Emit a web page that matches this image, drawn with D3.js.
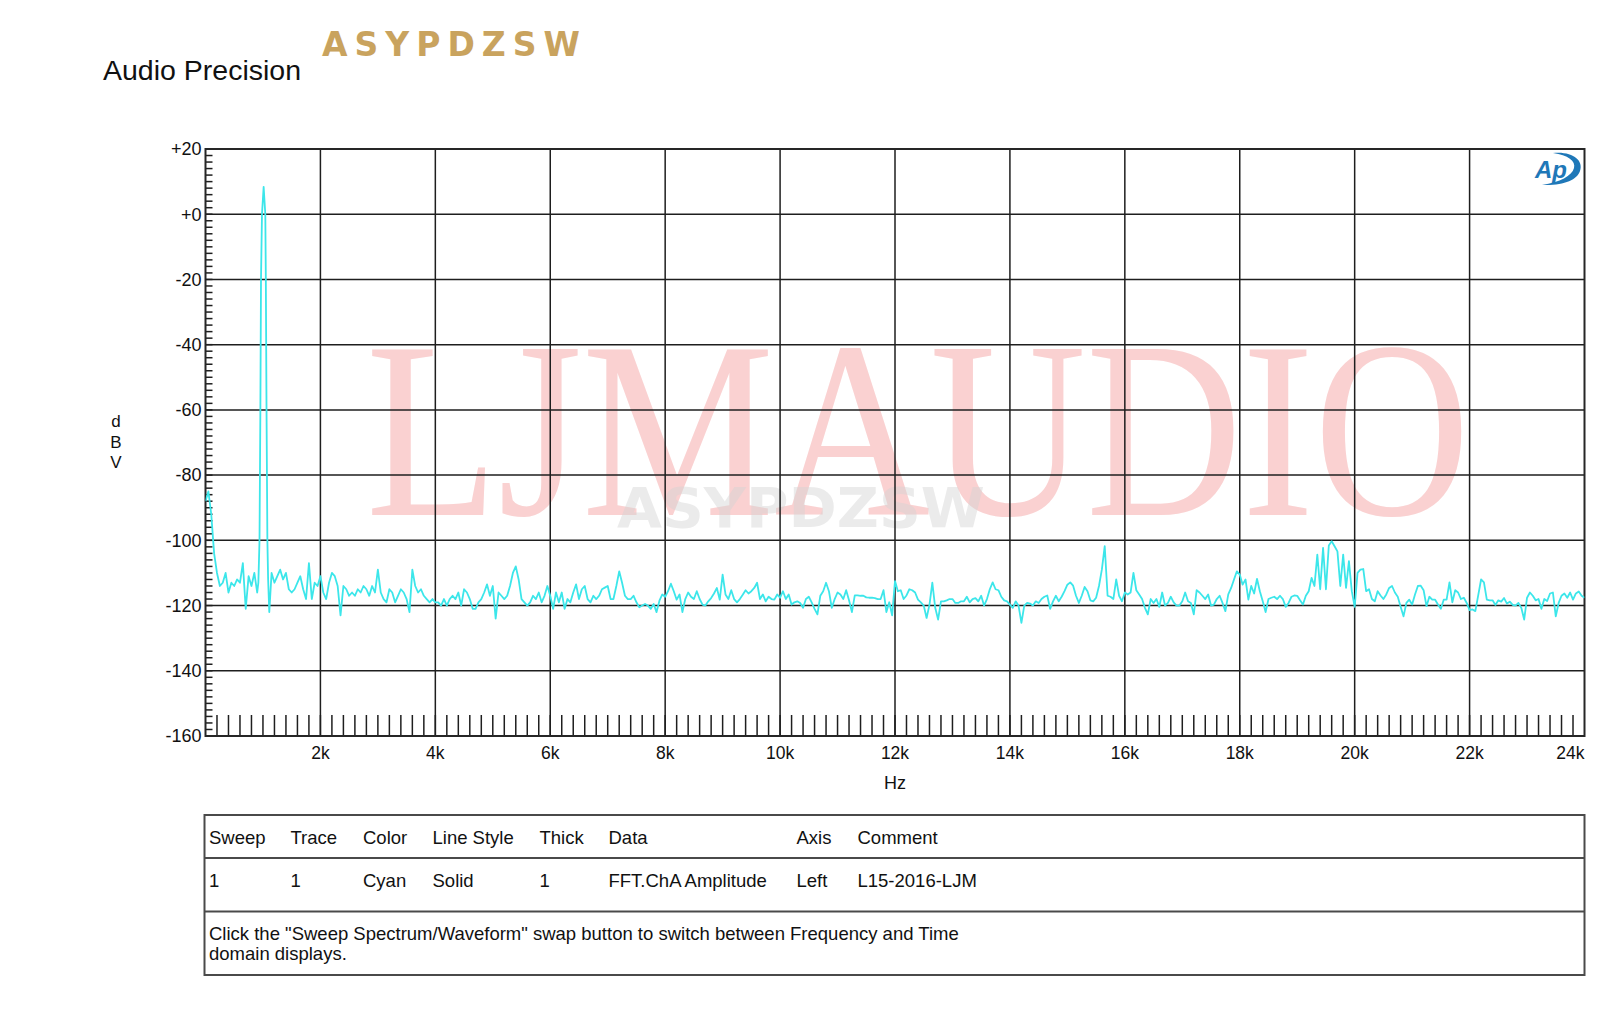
<!DOCTYPE html>
<html>
<head>
<meta charset="utf-8">
<script src="https://cdn.jsdelivr.net/npm/d3@7"></script>
<style>
  html, body { margin: 0; padding: 0; background: #ffffff; }
  svg { display: block; }
</style>
</head>
<body>
<svg id="chart" width="1600" height="1013"></svg>
<script>
// ---------------- DATA ----------------
const BIN_HZ = 50; // FFT bin spacing of the noise trace (bins 0 .. 24000 Hz)
const noiseDb = [
  -88, -85, -92, -104, -110, -114, -113, -110, -116, -113,
  -114, -112, -113, -107, -121, -111, -114, -110, -116, -112,
  -113, -118, -122, -110, -113, -111, -109, -112, -110, -115,
  -116, -115, -113, -111, -115, -118, -107, -118, -113, -114,
  -111, -116, -118, -113, -110, -111, -114, -123, -114, -115,
  -117, -116, -117, -115, -116, -114, -115, -117, -114, -116,
  -109, -116, -118, -119, -115, -116, -119, -117, -115, -116,
  -118, -122, -109, -114, -116, -115, -117, -118, -119, -118,
  -119, -119, -120, -118, -120, -118, -117, -118, -116, -120,
  -115, -116, -118, -121, -121, -119, -118, -116, -113.5, -117,
  -114, -124, -116, -117, -118, -117, -114, -110, -108, -112,
  -118, -119, -120, -119, -117, -118, -116, -119, -117, -114,
  -117, -121, -116, -119, -116, -121, -118, -119, -116, -113.5,
  -118, -115, -114, -118, -119, -117, -118, -117, -115, -114.5,
  -114, -118, -118, -114, -109.5, -113, -117, -118, -118, -117,
  -119, -120.5, -120, -119.5, -120, -121, -119.5, -122, -118.5, -116.6,
  -117.3, -115.6, -113.3, -115.6, -118.2, -116.6, -122, -118, -116, -117.3,
  -118, -115.6, -118, -119.7, -120, -118.7, -117.7, -116.3, -114.6, -118.2,
  -110.5, -116.6, -118, -115.3, -118, -119, -118, -116.7, -115.3, -116.3,
  -115.6, -114.6, -113, -118, -116.6, -118.7, -117.3, -118, -118.2, -116.6,
  -117.6, -115.6, -118, -116.6, -119.7, -119, -118.7, -119.2, -120.7, -118,
  -117.3, -119, -121, -122.7, -117, -115.6, -113, -115.6, -120.7, -118,
  -116, -116.6, -118, -115.3, -118.4, -122, -116.9, -116.9, -117, -117,
  -117.5, -117.6, -117.6, -117.7, -118, -118, -115.3, -122, -119, -123,
  -112.5, -115.6, -115.3, -118, -116.9, -115, -115.3, -116, -118.2, -119,
  -120, -123.8, -119.7, -113, -120.7, -124.3, -118.7, -118.7, -118.4, -118,
  -118, -119.2, -119.2, -118.7, -118.7, -117.3, -119, -118, -117.7, -118.7,
  -117, -120, -118, -115, -112.9, -115, -115.3, -117.3, -118.4, -118.7,
  -119.7, -120.7, -118.7, -120, -125.3, -120, -119.2, -119.4, -120, -118.7,
  -119.2, -118, -117.3, -116.9, -121, -118.7, -117, -118.7, -117.3, -115.6,
  -113.6, -112.9, -113.9, -117, -119.2, -117, -114.3, -115.6, -118.4, -118.7,
  -117.6, -114, -109, -101.8, -117, -117.3, -118, -112, -117, -118.7,
  -116, -116.6, -116, -110, -115.3, -116.6, -118, -120.7, -122.7, -118,
  -119.2, -118, -120.4, -116, -120, -119.2, -117.3, -119, -120, -120,
  -118.7, -116, -118.7, -119.2, -122.7, -115.3, -116, -117, -118, -116.6,
  -120, -119.7, -118, -117, -119.2, -121.7, -116.6, -114.6, -112, -109.5,
  -110.5, -113.6, -112, -118.2, -114, -116.3, -111.8, -115.6, -118.7, -122,
  -118, -117.6, -117.3, -118, -117, -118, -120.4, -119.2, -117.3, -116.9,
  -117, -118.4, -119.7, -117, -115.6, -111.5, -114, -104.4, -115, -102.3,
  -115, -101.6, -100.3, -101.8, -103.4, -114, -104.4, -114.6, -106.4, -115.6,
  -120.4, -110, -109, -108.8, -115.6, -115, -118, -118.7, -115.6, -116.9,
  -118, -116.6, -114.6, -114, -116, -117.3, -120.4, -123.3, -119.2, -118.2,
  -119.7, -116.6, -114, -113.9, -115.3, -120.2, -117.3, -118.2, -118.2, -119.7,
  -121, -118.2, -118.2, -112.9, -119, -115.3, -116, -118, -117.6, -119.2,
  -121.4, -121.2, -121.7, -116.9, -112, -112.9, -118.2, -118.4, -118.4, -119.8,
  -118.4, -118.8, -117.7, -119.4, -118.8, -119.8, -120, -119.2, -120.7, -124.3,
  -117.6, -116, -117, -118.4, -118, -121, -118, -118.6, -116.3, -116,
  -123.3, -119.2, -117, -116.3, -117.6, -116, -118.2, -116.3, -115.7, -117, -117.6
];
// 1 kHz test tone, read at finer resolution
const toneHz = [920, 940, 955, 966, 983, 1012, 1041, 1050, 1062, 1077, 1090, 1110];
const toneDb = [-113, -100, -60, -20, 0, 8.4, 0, -20, -60, -100, -112, -122];

const xMajorHz = [2000, 4000, 6000, 8000, 10000, 12000, 14000, 16000, 18000, 20000, 22000, 24000];
const xMajorLabels = ["2k", "4k", "6k", "8k", "10k", "12k", "14k", "16k", "18k", "20k", "22k", "24k"];
const yMajorDb = [20, 0, -20, -40, -60, -80, -100, -120, -140, -160];
const yMajorLabels = ["+20", "+0", "-20", "-40", "-60", "-80", "-100", "-120", "-140", "-160"];

const titleText = "Audio Precision";
const brandText = "ASYPDZSW";
const watermarkText = "LJMAUDIO";
const xAxisTitle = "Hz";
const yAxisTitle = ["d", "B", "V"];

const tableHeaders = ["Sweep", "Trace", "Color", "Line Style", "Thick", "Data", "Axis", "Comment"];
const tableRow = ["1", "1", "Cyan", "Solid", "1", "FFT.ChA Amplitude", "Left", "L15-2016-LJM"];
const noteLines = [
  "Click the \"Sweep Spectrum/Waveform\" swap button to switch between Frequency and Time",
  "domain displays."
];

// ---------------- LAYOUT ----------------
const svg = d3.select("#chart");
const P = { left: 205.5, right: 1584.5, top: 149, bottom: 736 };
const FONT = "'Liberation Sans', Arial, Helvetica, sans-serif";

const x = d3.scaleLinear().domain([0, 24000]).range([P.left, P.right]);
const y = d3.scaleLinear().domain([-160, 20]).range([P.bottom, P.top]);

svg.append("rect").attr("width", 1600).attr("height", 1013).attr("fill", "#ffffff");

// Title + brand
svg.append("text").attr("x", 103).attr("y", 80)
  .attr("font-family", FONT).attr("font-size", 28.5).attr("fill", "#111")
  .text(titleText);
svg.append("text").attr("x", 322).attr("y", 56)
  .attr("font-family", "'DejaVu Sans', sans-serif").attr("font-weight", "bold")
  .attr("font-size", 33).attr("fill", "#c9a35e")
  .attr("textLength", 258).attr("lengthAdjust", "spacing")
  .text(brandText);

// Watermark (behind grid)
const wm = svg.append("g");
wm.append("text").attr("x", 366).attr("y", 515)
  .attr("font-family", "'Liberation Serif', 'Times New Roman', serif")
  .attr("font-size", 252).attr("fill", "#f7b3b3").attr("opacity", 0.6)
  .attr("textLength", 1104).attr("lengthAdjust", "spacingAndGlyphs")
  .text(watermarkText);
wm.append("text").attr("x", 617).attr("y", 527)
  .attr("font-family", "'DejaVu Sans', sans-serif").attr("font-weight", "bold")
  .attr("font-size", 55).attr("fill", "#d4d4d4").attr("opacity", 0.45)
  .attr("textLength", 368).attr("lengthAdjust", "spacingAndGlyphs")
  .text(brandText);

// Grid
const grid = svg.append("g").attr("stroke", "#1e1e1e").attr("stroke-width", 1.5);
grid.selectAll("line.v").data(xMajorHz.filter(d => d < 24000)).join("line")
  .attr("x1", d => x(d)).attr("x2", d => x(d)).attr("y1", P.top).attr("y2", P.bottom);
grid.selectAll("line.h").data(yMajorDb.filter(d => d < 20 && d > -160)).join("line")
  .attr("x1", P.left).attr("x2", P.right).attr("y1", d => y(d)).attr("y2", d => y(d));

// Minor ticks
const minor = svg.append("g").attr("stroke", "#1e1e1e").attr("stroke-width", 1.5);
minor.selectAll("line.mx").data(x.ticks(120).filter(d => d > 0 && d < 24000)).join("line")
  .attr("x1", d => x(d)).attr("x2", d => x(d)).attr("y1", P.bottom).attr("y2", P.bottom - 21);
minor.selectAll("line.my").data(y.ticks(90)).join("line")
  .attr("x1", P.left).attr("x2", P.left + 7).attr("y1", d => y(d)).attr("y2", d => y(d));

// Frame
svg.append("rect").attr("x", P.left).attr("y", P.top)
  .attr("width", P.right - P.left).attr("height", P.bottom - P.top)
  .attr("fill", "none").attr("stroke", "#262626").attr("stroke-width", 2);

// Trace
const points = noiseDb.map((v, i) => ({ f: i * BIN_HZ, db: v }))
  .filter(d => d.f < toneHz[0] || d.f > toneHz[toneHz.length - 1])
  .concat(toneHz.map((f, i) => ({ f: f, db: toneDb[i] })))
  .sort((a, b) => a.f - b.f);

svg.append("clipPath").attr("id", "plotclip").append("rect")
  .attr("x", P.left).attr("y", P.top).attr("width", P.right - P.left).attr("height", P.bottom - P.top);

const line = d3.line().x(d => x(d.f)).y(d => y(d.db));
svg.append("path").datum(points)
  .attr("clip-path", "url(#plotclip)")
  .attr("d", line).attr("fill", "none")
  .attr("stroke", "#3ce6ea").attr("stroke-width", 1.8).attr("stroke-linejoin", "round");

// Axis labels
const xl = svg.append("g").attr("font-family", FONT).attr("font-size", 17.5).attr("fill", "#111");
xl.selectAll("text").data(xMajorHz).join("text")
  .attr("x", d => x(d))
  .attr("y", 759)
  .attr("text-anchor", d => d === 24000 ? "end" : "middle")
  .text((d, i) => xMajorLabels[i]);

const yl = svg.append("g").attr("font-family", FONT).attr("font-size", 18).attr("fill", "#111");
yl.selectAll("text").data(yMajorDb).join("text")
  .attr("x", 201.5).attr("y", d => y(d) + 6.3)
  .attr("text-anchor", "end")
  .text((d, i) => yMajorLabels[i]);

svg.append("text").attr("x", x(12000)).attr("y", 789)
  .attr("font-family", FONT).attr("font-size", 18).attr("fill", "#111")
  .attr("text-anchor", "middle").text(xAxisTitle);

svg.append("g").attr("font-family", FONT).attr("font-size", 17).attr("fill", "#111")
  .selectAll("text").data(yAxisTitle).join("text")
  .attr("x", 116).attr("y", (d, i) => 427 + i * 20.5)
  .attr("text-anchor", "middle").text(d => d);

// AP logo
const ap = svg.append("g");
ap.append("text").attr("x", 1535).attr("y", 178)
  .attr("font-family", FONT).attr("font-style", "italic").attr("font-weight", "bold")
  .attr("font-size", 24).attr("fill", "#1f78b8").text("Ap");
ap.append("path")
  .attr("d", "M1553,153 C1572,151 1584,160 1580,171 C1577,180 1563,186 1542,185 C1560,182 1572,176 1574,168 C1576,161 1568,155 1553,153 Z")
  .attr("fill", "#1f78b8");

// Table
const T = { left: 204.5, right: 1584.5, top: 815, r1: 858, r2: 911.5, bottom: 975 };
const tbl = svg.append("g");
tbl.append("rect").attr("x", T.left).attr("y", T.top)
  .attr("width", T.right - T.left).attr("height", T.bottom - T.top)
  .attr("fill", "none").attr("stroke", "#4a4a4a").attr("stroke-width", 2);
[T.r1, T.r2].forEach(yy => tbl.append("line")
  .attr("x1", T.left).attr("x2", T.right).attr("y1", yy).attr("y2", yy)
  .attr("stroke", "#4a4a4a").attr("stroke-width", 2));

const colX = [209, 290.5, 363, 432.5, 539.5, 608.5, 796.5, 857.5];
const tt = tbl.append("g").attr("font-family", FONT).attr("font-size", 18.5).attr("fill", "#111");
tt.selectAll("text.h").data(tableHeaders).join("text").attr("class", "h")
  .attr("x", (d, i) => colX[i]).attr("y", 844).text(d => d);
tt.selectAll("text.r").data(tableRow).join("text").attr("class", "r")
  .attr("x", (d, i) => colX[i]).attr("y", 887).text(d => d);
tt.selectAll("text.n").data(noteLines).join("text").attr("class", "n")
  .attr("x", 209).attr("y", (d, i) => 940 + i * 20).text(d => d);
</script>
</body>
</html>
